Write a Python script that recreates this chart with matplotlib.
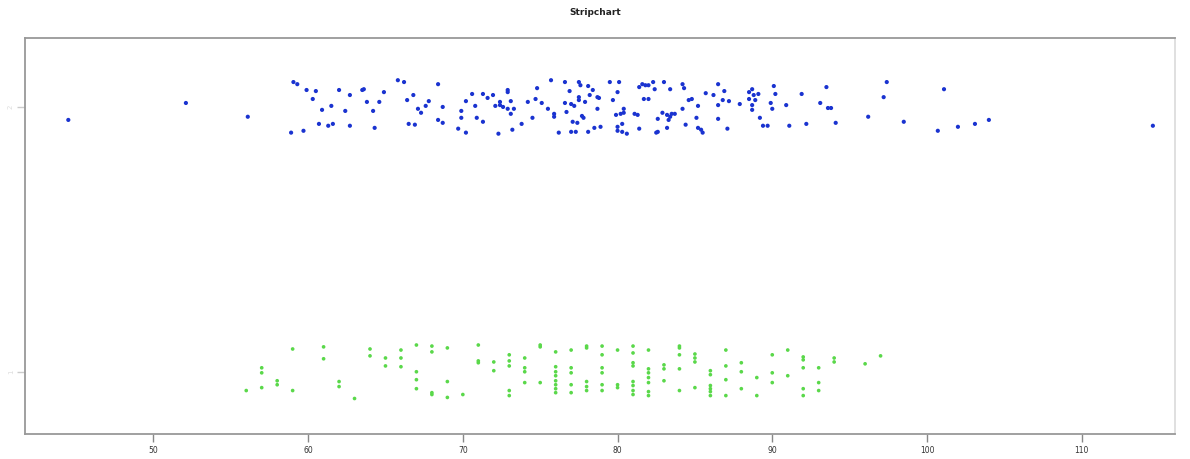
import matplotlib.pyplot as plt

# group 2 (top, blue): continuous values and vertical jitter
blue_x = [44.5, 52.1, 56.1, 59.05, 59.3, 59.9, 60.5, 60.3, 60.9, 61.5, 60.7, 61.3, 61.6,
          58.9, 59.7, 62.0, 62.7, 62.4, 62.7, 63.5, 63.6, 63.8, 64.2, 64.6, 64.9, 64.3,
          65.8, 66.2, 66.8, 66.4, 67.1, 67.3, 67.6, 67.8, 66.5, 66.9, 68.4, 68.4, 68.7,
          68.7, 69.7, 70.2, 69.9, 69.9, 70.2, 70.6, 70.8, 70.9, 71.3, 71.3, 71.6, 71.95,
          72.1, 72.4, 72.4, 72.3, 72.6, 72.9, 73.1, 72.9, 72.9, 73.1, 73.3, 73.2, 73.8,
          74.2, 74.5, 74.7, 74.8, 75.1, 75.5, 75.7, 75.9, 75.9, 76.2, 76.6, 76.6, 76.7,
          76.9, 77.0, 77.2, 77.1, 77.4, 77.0, 77.3, 77.5, 77.6, 77.5, 77.5, 77.7, 77.8,
          77.9, 78.1, 78.1, 78.4, 78.2, 78.7, 78.8, 78.7, 78.5, 78.9, 79.5, 80.1, 80.0,
          79.7, 80.4, 79.9, 80.2, 80.4, 80.0, 80.0, 80.3, 80.6, 80.3, 81.1, 81.3, 81.4,
          81.6, 81.8, 82.0, 82.3, 82.4, 83.0, 83.4, 81.7, 82.0, 81.4, 82.5, 82.6, 83.2,
          82.6, 82.9, 83.2, 83.4, 83.5, 83.3, 83.7, 84.2, 84.2, 84.3, 84.6, 84.8, 84.4,
          85.2, 85.1, 85.2, 85.4, 85.5, 85.7, 86.2, 86.5, 86.5, 86.5, 86.9, 86.8, 87.2,
          87.1, 87.9, 88.5, 88.7, 88.8, 89.1, 88.5, 88.7, 88.7, 88.9, 89.2, 89.4, 89.7,
          89.9, 90.0, 90.1, 90.2, 90.9, 91.1, 91.9, 92.2, 93.1, 93.6, 93.8, 93.5, 94.1,
          96.2, 97.4, 97.2, 98.5, 100.7, 101.1, 102.0, 103.1, 104.0, 114.6]
blue_jit = [-.049, .015, -.037, .094, .086, .064, .06, .03, -.011, .004, -.064, -.071, -.064,
            -.097, -.09, .064, .045, -.015, -.071, .064, .067, .019, -.015, .019, .056, -.079,
            .101, .094, .045, .026, -.007, -.022, .004, .022, -.064, -.067, .086, -.049, -.06,
            0, -.082, -.097, -.015, -.041, .022, .049, .004, -.041, -.056, .049, .034, .045,
            .004, .007, .019, -.101, 0, -.007, -.026, .064, .056, .022, -.007, -.086, -.064,
            .019, -.041, .03, .071, .015, -.007, .101, -.026, -.037, -.097, .094, .015, -.019,
            .06, .011, .004, -.056, -.06, -.094, -.094, .094, .082, .037, .026, -.034, -.041,
            .019, .079, -.094, .064, .045, .037, .034, -.007, -.079, -.075, .094, .094, .056,
            .026, -.007, -.03, -.026, -.022, -.075, -.09, -.094, -.101, -.064, -.026, -.03, .075,
            .086, .082, .082, .094, .067, .094, .067, .03, .03, -.082, -.097, -.094, -.079,
            -.045, -.022, -.03, -.037, -.026, -.049, -.026, -.007, .086, .071, .026, .03, -.067,
            .004, -.041, -.079, -.086, -.097, .052, .045, .086, .007, -.045, .06, .026, .022,
            -.082, .011, .056, .067, .045, .049, .03, .007, -.011, .026, -.041, -.071, -.071,
            .015, -.007, .079, .049, .007, -.071, .049, -.064, .015, -.004, -.004, .075, -.06,
            -.037, .094, .037, -.056, -.09, .067, -.075, -.064, -.049, -.071]

# group 1 (bottom, green): integer values and vertical jitter
green_x = [56, 57, 57, 57, 58, 58, 59, 59, 61, 61, 62, 62, 63, 64, 64, 65, 65,
           66, 66, 66, 67, 67, 67, 67, 68, 68, 68, 68, 69, 69, 69, 70, 71, 71, 71,
           72, 72, 73, 73, 73, 73, 73, 74, 74, 74, 74, 75, 75, 75,
           76, 76, 76, 76, 76, 76, 76, 76, 77, 77, 77, 77, 77, 78, 78, 78, 78, 78,
           79, 79, 79, 79, 79, 79, 80, 80, 80, 81, 81, 81, 81, 81, 81, 81, 81,
           82, 82, 82, 82, 82, 82, 82, 83, 83, 83, 84, 84, 84, 84, 84, 85, 85, 85, 85,
           86, 86, 86, 86, 86, 86, 87, 87, 87, 87, 88, 88, 88, 89, 89, 90, 90, 90,
           91, 91, 92, 92, 92, 92, 92, 93, 93, 93, 94, 94, 96, 97]
green_jit = [-.071, .015, -.004, -.060, -.034, -.049, .086, -.071, .094, .049, -.037, -.056, -.101,
             .086, .060, .052, .022, .082, .052, .019, .101, 0, -.030, -.064,
             .097, .075, -.079, -.086, .090, -.037, -.097, -.086, .101, .041, .034,
             .037, .004, .064, .041, .022, -.071, -.090, .052, .015, 0, -.041, .101, .094, -.041,
             .075, .019, 0, -.015, -.034, -.049, -.064, -.079, .082, .015, -.004, -.049, -.079,
             .097, .090, -.037, -.056, -.071, .097, .064, .015, -.004, -.049, -.071,
             .082, -.049, -.060, .097, .071, .034, .022, -.037, -.052, -.071, -.086,
             .082, .011, -.004, -.022, -.041, -.075, -.090, .026, .011, -.034,
             .097, .090, .064, .011, -.071, .067, .052, .037, -.060,
             .004, -.011, -.052, -.064, -.075, -.090, .082, .022, -.030, -.090,
             .034, 0, -.064, -.022, -.090, .064, -.004, -.041, .082, -.015,
             .056, .045, .015, -.064, -.090, .015, -.041, -.071, .052, .037, .030, .060]

fig = plt.figure(figsize=(11.9, 4.59), dpi=100)
ax = fig.add_axes([0.021, 0.0545, 0.966, 0.8625])

ax.scatter(blue_x, [2 + j for j in blue_jit], s=9, color='#1a33d0', edgecolors='none')
ax.scatter(green_x, [1 + j for j in green_jit], s=7, color='#5ad84a', edgecolors='none')

ax.set_xlim(41.7, 116.0)
ax.set_ylim(0.765, 2.26)
ax.set_xticks([50, 60, 70, 80, 90, 100, 110])
ax.tick_params(axis='x', labelsize=5.5, colors='#888888', labelcolor='#333333',
               length=6, width=1, pad=3)
ax.set_yticks([1, 2])
ax.set_yticklabels(['1', '2'], rotation=90, va='center')
ax.tick_params(axis='y', labelsize=5, colors='#cccccc', labelcolor='#dddddd',
               length=6, width=1, pad=2)
for s in ax.spines.values():
    s.set_color('#999999')
    s.set_linewidth(1.3)
ax.spines['right'].set_color('#dddddd')

fig.text(0.5, 0.972, 'Stripchart', ha='center', va='center', fontsize=6.5,
         fontweight='bold', color='#222222')

fig.savefig('out.png', dpi=100)
